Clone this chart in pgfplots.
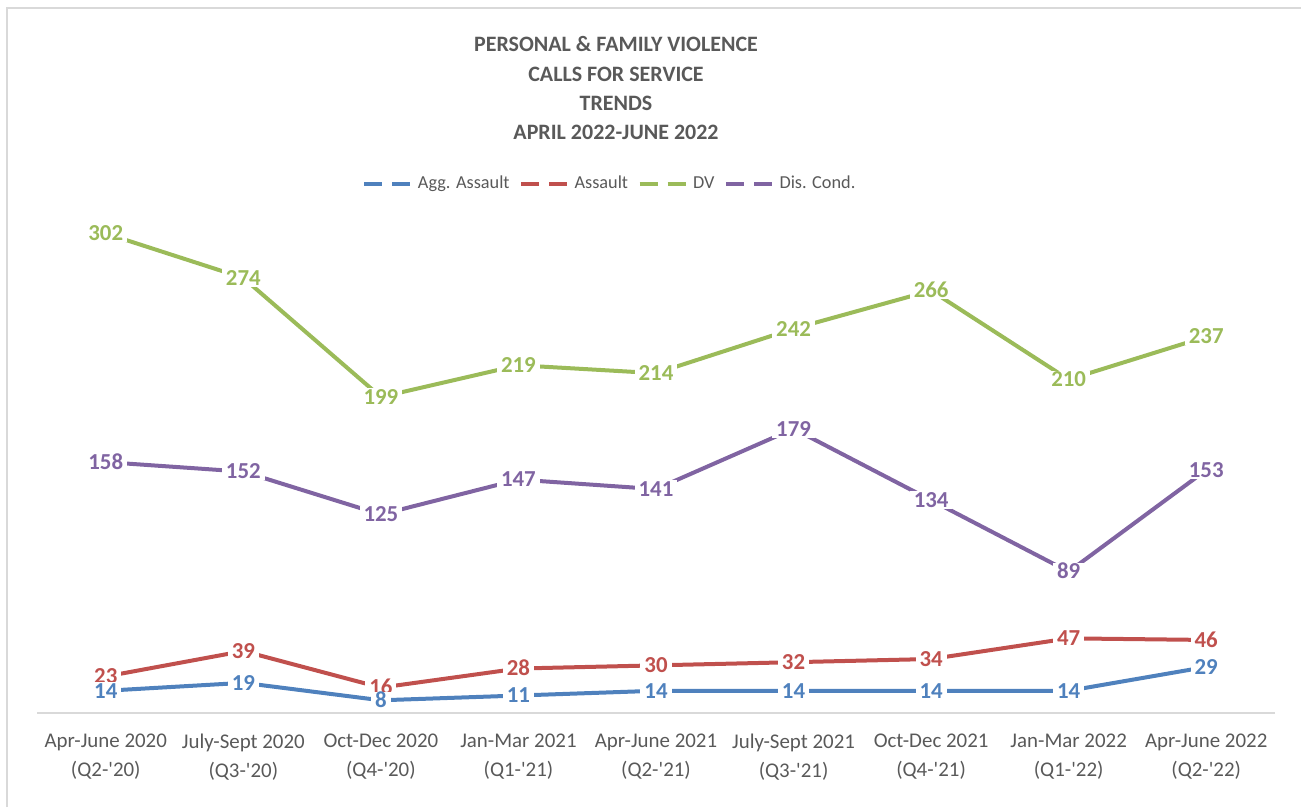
\documentclass[border=0pt]{standalone}
\usepackage{fontspec}
\setmainfont{Carlito}
\usepackage{pgfplots}
\usepackage{pgfplotstable}
\pgfplotsset{compat=1.18}
\definecolor{cblue}{HTML}{4F81BD}
\definecolor{cred}{HTML}{C0504D}
\definecolor{cgreen}{HTML}{9BBB59}
\definecolor{cpurple}{HTML}{8064A2}
\definecolor{ctext}{HTML}{595959}
\definecolor{cline}{HTML}{D9D9D9}

\pgfplotstableread{
x agg asl dv dis
0 14 23 302 158
1 19 39 274 152
2 8 16 199 125
3 11 28 219 147
4 14 30 214 141
5 14 32 242 179
6 14 34 266 134
7 14 47 210 89
8 29 46 237 153
}\calls

\pgfplotsset{
  lbl/.style={draw=none, mark=none, forget plot,
    nodes near coords={\pgfmathprintnumber[assume math mode=true]{\pgfplotspointmeta}},
    nodes near coords style={font=\fontsize{13}{15}\selectfont\bfseries,
      text=#1, fill=white, inner xsep=0.08cm, inner ysep=0.03cm,
      text height=8.3pt, text depth=0pt, anchor=center}},
}

\begin{document}
\begin{tikzpicture}
\useasboundingbox (0,0) rectangle (26.02cm,16.14cm);
% chart frame (left and top edges only)
\draw[cline, line width=0.04cm] (0.14cm,0cm) -- (0.14cm,15.98cm) -- (26.02cm,15.98cm);
\node[font=\fontsize{12.5}{16.7}\selectfont\bfseries, text=ctext, align=center]
  at (12.32cm,14.375cm) {PERSONAL \& FAMILY VIOLENCE\\CALLS FOR SERVICE\\TRENDS\\APRIL 2022-JUNE 2022};
\begin{axis}[
  at={(0.74cm,1.88cm)}, anchor=south west,
  scale only axis, width=24.76cm, height=10.48cm,
  xmin=-0.5, xmax=8.5, ymin=0, ymax=330,
  axis x line=bottom, axis y line=none,
  axis line style={cline, line width=0.04cm, -},
  xtick={0,...,8}, ytick=\empty,
  major tick length=0pt,
  xticklabels={{Apr-June 2020\\(Q2-\textquotesingle20)},
               {July-Sept 2020\\(Q3-\textquotesingle20)},
               {Oct-Dec 2020\\(Q4-\textquotesingle20)},
               {Jan-Mar 2021\\(Q1-\textquotesingle21)},
               {Apr-June 2021\\(Q2-\textquotesingle21)},
               {July-Sept 2021\\(Q3-\textquotesingle21)},
               {Oct-Dec 2021\\(Q4-\textquotesingle21)},
               {Jan-Mar 2022\\(Q1-\textquotesingle22)},
               {Apr-June 2022\\(Q2-\textquotesingle22)}},
  xticklabel style={font=\fontsize{11.9}{16.2}\selectfont, text=ctext, align=center, inner sep=0pt, yshift=-0.42cm},
  clip=false,
  legend columns=4,
  legend style={at={(0.463,1.01)}, anchor=center, draw=none, fill=none,
    font=\fontsize{10.4}{12}\selectfont, text=ctext,
    nodes={inner sep=0.05cm},
    /tikz/every odd column/.append style={column sep=0.04cm},
    /tikz/every even column/.append style={column sep=0.14cm}},
  legend image code/.code={\draw[#1, dash pattern=on 0.36cm off 0.2cm] (0cm,0cm) -- (0.94cm,0cm);},
  every axis plot/.append style={line width=0.08cm},
]
\addplot[cblue, mark=none] table[x=x, y=agg] {\calls};
\addplot[cred, mark=none] table[x=x, y=asl] {\calls};
\addplot[cgreen, mark=none] table[x=x, y=dv] {\calls};
\addplot[cpurple, mark=none] table[x=x, y=dis] {\calls};
\legend{Agg. Assault, Assault, DV, Dis. Cond.}
\addplot[lbl=cred] table[x=x, y=asl] {\calls};
\addplot[lbl=cgreen] table[x=x, y=dv] {\calls};
\addplot[lbl=cpurple] table[x=x, y=dis] {\calls};
\addplot[lbl=cblue] table[x=x, y=agg] {\calls};
\end{axis}
\end{tikzpicture}
\end{document}
